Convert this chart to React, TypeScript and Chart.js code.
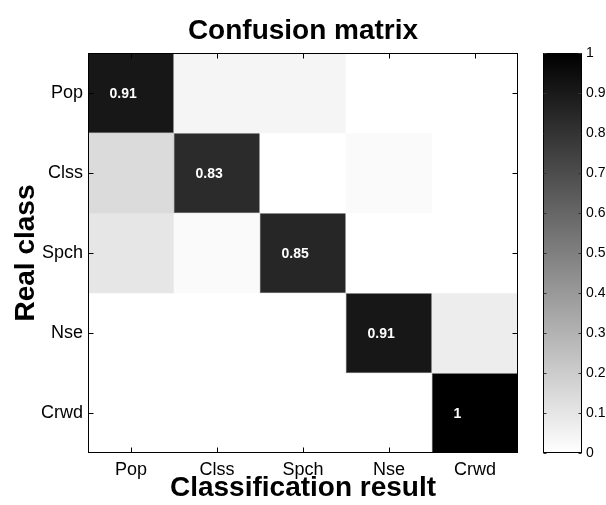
import React, { useEffect, useRef } from 'react';
import { Chart, registerables } from 'chart.js';

Chart.register(...registerables);

// ---- data ----
const classes = ['Pop', 'Clss', 'Spch', 'Nse', 'Crwd'];
const rowPop = [0.91, 0.04, 0.04, 0, 0];
const rowClss = [0.14, 0.83, 0, 0.02, 0];
const rowSpch = [0.1, 0.02, 0.85, 0, 0];
const rowNse = [0, 0, 0, 0.91, 0.07];
const rowCrwd = [0, 0, 0, 0, 1];
const matrix = [rowPop, rowClss, rowSpch, rowNse, rowCrwd];
const colorbarRange = [0, 1];
const colorbarTicks = [0, 0.1, 0.2, 0.3, 0.4, 0.5, 0.6, 0.7, 0.8, 0.9, 1];
const chartTitle = 'Confusion matrix';

const FONT = '"Liberation Sans", Arial, Helvetica, sans-serif';

const gray = (v: number) => {
  const g = Math.round(255 * (1 - v));
  return `rgb(${g},${g},${g})`;
};

const matrixPlugin = {
  id: 'matrixDecor',
  afterDatasetsDraw(chart: any) {
    const { ctx, chartArea, scales } = chart;
    const x = scales.x;
    const y = scales.y;
    const cw = Math.abs(x.getPixelForValue(1) - x.getPixelForValue(0));
    ctx.save();
    // cell labels (diagonal)
    ctx.fillStyle = '#ffffff';
    ctx.font = `bold 14px ${FONT}`;
    ctx.textAlign = 'left';
    ctx.textBaseline = 'middle';
    matrix.forEach((row, r) => {
      row.forEach((v, c) => {
        if (r !== c) return;
        const px = x.getPixelForValue(c) - cw / 4;
        const py = y.getPixelForValue(r);
        ctx.fillText(String(+v.toFixed(2)), px, py + 1);
      });
    });
    // frame
    ctx.strokeStyle = '#000';
    ctx.lineWidth = 1;
    const l = Math.round(chartArea.left) + 0.5;
    const t = Math.round(chartArea.top) + 0.5;
    const rr = Math.round(chartArea.right) - 0.5;
    const b = Math.round(chartArea.bottom) - 0.5;
    ctx.strokeRect(l, t, rr - l, b - t);
    // inward ticks
    const tl = 5;
    ctx.beginPath();
    x.ticks.forEach((_: any, i: number) => {
      const px = Math.round(x.getPixelForTick(i)) + 0.5;
      ctx.moveTo(px, t);
      ctx.lineTo(px, t + tl);
      ctx.moveTo(px, b);
      ctx.lineTo(px, b - tl);
    });
    y.ticks.forEach((_: any, i: number) => {
      const py = Math.round(y.getPixelForTick(i)) + 0.5;
      ctx.moveTo(l, py);
      ctx.lineTo(l + tl, py);
      ctx.moveTo(rr, py);
      ctx.lineTo(rr - tl, py);
    });
    ctx.stroke();
    // title centred over the plot area
    ctx.fillStyle = '#000';
    ctx.font = `bold 28px ${FONT}`;
    ctx.textAlign = 'center';
    ctx.textBaseline = 'middle';
    ctx.fillText(chartTitle, (chartArea.left + chartArea.right) / 2, chartArea.top - 22);
    ctx.restore();
  },
};

const colorbarPlugin = {
  id: 'colorbarDecor',
  afterDatasetsDraw(chart: any) {
    const { ctx, chartArea, scales } = chart;
    const y = scales.y;
    ctx.save();
    ctx.strokeStyle = '#000';
    ctx.lineWidth = 1;
    const l = Math.round(chartArea.left) + 0.5;
    const t = Math.round(chartArea.top) + 0.5;
    const rr = Math.round(chartArea.right) - 0.5;
    const b = Math.round(chartArea.bottom) - 0.5;
    ctx.strokeRect(l, t, rr - l, b - t);
    ctx.beginPath();
    const tl = 3;
    y.ticks.forEach((_: any, i: number) => {
      const py = Math.round(y.getPixelForTick(i)) + 0.5;
      ctx.moveTo(l, py);
      ctx.lineTo(l + tl, py);
      ctx.moveTo(rr, py);
      ctx.lineTo(rr - tl, py);
    });
    ctx.strokeStyle = '#333';
    ctx.stroke();
    ctx.restore();
  },
};

export default function App() {
  const mainRef = useRef<HTMLCanvasElement>(null);
  const barRef = useRef<HTMLCanvasElement>(null);

  useEffect(() => {
    if (!mainRef.current || !barRef.current) return;

    const main = new Chart(mainRef.current, {
      type: 'bar',
      data: {
        labels: classes,
        datasets: matrix.map((row, r) => ({
          label: classes[r],
          data: row.map(() => [r - 0.5, r + 0.5]),
          backgroundColor: row.map(gray),
          borderColor: row.map((v) => (v > 0.5 ? '#7a7a7a' : 'rgba(0,0,0,0)')),
          borderWidth: row.map((v) => (v > 0.5 ? 1 : 0)),
          borderSkipped: false,
          grouped: false,
          barPercentage: 1,
          categoryPercentage: 1,
        })) as any,
      },
      options: {
        animation: false,
        responsive: false,
        events: [],
        layout: { padding: { left: 9, right: 12, top: 53, bottom: 0 } },
        plugins: {
          legend: { display: false },
          tooltip: { enabled: false },
          title: { display: false },
        },
        scales: {
          x: {
            type: 'category',
            offset: true,
            grid: { display: false, drawTicks: false },
            border: { display: false },
            ticks: { color: '#000', font: { family: FONT, size: 18 }, padding: 6, maxRotation: 0 },
            title: {
              display: true,
              text: 'Classification result',
              color: '#000',
              font: { family: FONT, size: 28, weight: 'bold', lineHeight: 1.2 },
              padding: 0,
            },
            afterFit: (s: any) => {
              s.height = 52;
            },
          },
          y: {
            type: 'linear',
            min: -0.5,
            max: 4.5,
            reverse: true,
            afterBuildTicks: (s: any) => {
              s.ticks = classes.map((_, i) => ({ value: i }));
            },
            grid: { display: false, drawTicks: false },
            border: { display: false },
            ticks: {
              color: '#000',
              font: { family: FONT, size: 18 },
              padding: 5,
              callback: (v: any) => classes[v as number] ?? '',
            },
            title: {
              display: true,
              text: 'Real class',
              color: '#000',
              font: { family: FONT, size: 28, weight: 'bold', lineHeight: 1.2 },
              padding: 0,
            },
            afterFit: (s: any) => {
              s.width = 79;
            },
          },
        },
      } as any,
      plugins: [matrixPlugin],
    });

    const bar = new Chart(barRef.current, {
      type: 'bar',
      data: {
        labels: [''],
        datasets: [
          {
            data: [colorbarRange] as any,
            backgroundColor: (c: any) => {
              const chart = c.chart;
              const ys = chart.scales?.y;
              if (!chart.chartArea || !ys) return '#888';
              const g = chart.ctx.createLinearGradient(
                0,
                ys.getPixelForValue(colorbarRange[0]),
                0,
                ys.getPixelForValue(colorbarRange[1])
              );
              g.addColorStop(0, gray(colorbarRange[0]));
              g.addColorStop(1, gray(colorbarRange[1]));
              return g;
            },
            borderWidth: 0,
            barPercentage: 1,
            categoryPercentage: 1,
          },
        ],
      },
      options: {
        animation: false,
        responsive: false,
        events: [],
        layout: { padding: { left: 13, right: 0, top: 53, bottom: 52 } },
        plugins: { legend: { display: false }, tooltip: { enabled: false }, title: { display: false } },
        scales: {
          x: { display: false, offset: true },
          y: {
            position: 'right',
            min: colorbarRange[0],
            max: colorbarRange[1],
            afterBuildTicks: (s: any) => {
              s.ticks = colorbarTicks.map((v) => ({ value: v }));
            },
            grid: { display: false, drawTicks: false },
            border: { display: false },
            ticks: {
              color: '#000',
              font: { family: FONT, size: 14 },
              padding: 4,
              callback: (v: any) => String(+Number(v).toFixed(1)),
            },
            afterFit: (s: any) => {
              s.width = 24;
            },
          },
        },
      } as any,
      plugins: [colorbarPlugin],
    });

    return () => {
      main.destroy();
      bar.destroy();
    };
  }, []);

  return (
    <div style={{ position: 'fixed', left: 0, top: 0, width: 606, height: 505, background: '#fff', overflow: 'hidden' }}>
      <canvas ref={mainRef} width={530} height={505} style={{ position: 'absolute', left: 0, top: 0 }} />
      <canvas ref={barRef} width={76} height={505} style={{ position: 'absolute', left: 530, top: 0 }} />
    </div>
  );
}
